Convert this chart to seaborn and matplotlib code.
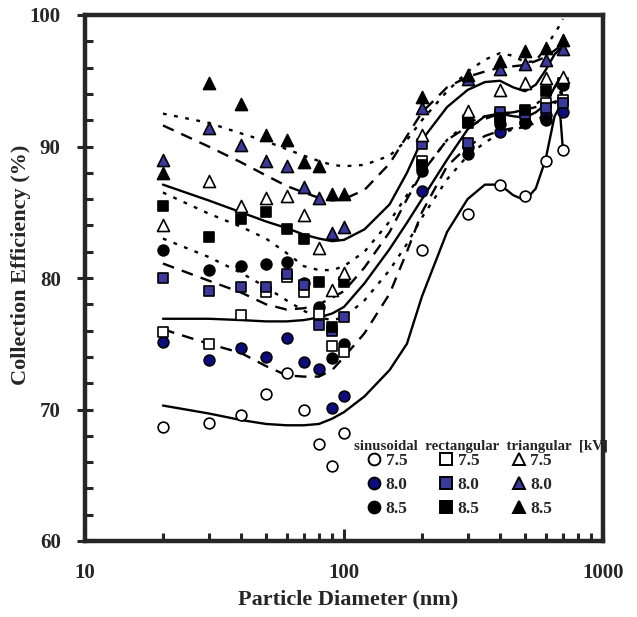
import matplotlib
matplotlib.use('Agg')
from matplotlib import pyplot as plt
from matplotlib.ticker import FixedLocator, FixedFormatter, NullFormatter
import seaborn as sns
import pandas as pd

# measured points (particle diameter, nm)
diam = [20, 30, 40, 50, 60, 70, 80, 90, 100, 200, 300, 400, 500, 600, 700]

sin_75 = [68.7, 69.0, 69.6, 71.2, 72.8, 70.0, 67.4, 65.7, 68.2, 82.1, 84.9, 87.1, 86.2, 88.9, 89.7]
sin_80 = [75.1, 73.8, 74.7, 74.0, 75.4, 73.6, 73.1, 70.1, 71.0, 86.6, 90.0, 91.1, 91.8, 92.4, 92.6]
sin_85 = [82.1, 80.6, 80.9, 81.1, 81.2, 79.6, 77.8, 73.9, 75.0, 88.1, 89.4, 91.7, 91.9, 92.0, 94.7]
rect_75 = [75.9, 75.0, 77.2, 78.9, 80.1, 78.9, 77.3, 74.8, 74.4, 88.9, 92.0, 92.3, 92.6, 93.3, 93.5]
rect_80 = [80.0, 79.0, 79.3, 79.3, 80.3, 79.5, 76.4, 76.0, 77.0, 90.2, 90.3, 92.6, 92.5, 92.9, 93.3]
rect_85 = [85.5, 83.1, 84.5, 85.0, 83.7, 83.0, 79.7, 76.3, 79.7, 88.6, 91.8, 92.2, 92.8, 94.2, 94.8]
tri_75 = [84.0, 87.4, 85.5, 86.1, 86.2, 84.8, 82.3, 79.1, 80.4, 90.9, 92.7, 94.3, 94.8, 95.2, 95.3]
tri_80 = [89.0, 91.4, 90.1, 88.9, 88.5, 86.9, 86.1, 83.4, 83.9, 92.9, 95.1, 95.9, 96.3, 96.6, 97.4]
tri_85 = [88.0, 94.8, 93.2, 90.9, 90.5, 88.8, 88.5, 86.4, 86.4, 93.8, 95.4, 96.5, 97.3, 97.5, 98.1]

# fitted curves
fit_d = [20, 30, 40, 50, 60, 70, 80, 90, 100, 120, 150, 175, 200, 250, 300, 350,
         400, 450, 500, 550, 600, 650, 680, 700]
fit_sin_75 = [70.3, 69.7, 69.2, 68.9, 68.8, 68.8, 68.9, 69.3, 69.8, 71.0, 73.0, 75.0,
              78.6, 83.5, 86.0, 87.1, 87.1, 86.3, 85.9, 86.8, 89.0, 92.3, 93.0, 89.8]
fit_sin_80 = [76.1, 75.0, 74.3, 73.3, 72.6, 72.5, 72.5, 73.0, 74.0, 75.8, 78.8, 82.0,
              85.0, 88.5, 90.0, 90.8, 91.2, 91.4, 91.6, 92.0, 92.4, 92.8, 92.8, 92.6]
fit_sin_85 = [83.0, 81.6, 80.4, 79.3, 78.3, 77.5, 77.0, 76.8, 77.0, 78.3, 80.6, 82.6,
              84.6, 87.5, 89.3, 90.3, 91.0, 91.3, 91.5, 91.8, 92.2, 93.2, 94.0, 94.5]
fit_rect_75 = [76.9, 76.9, 76.8, 76.7, 76.7, 76.8, 77.0, 77.3, 77.8, 79.6, 82.2, 84.2,
               86.0, 89.0, 91.3, 92.3, 92.5, 92.3, 92.2, 92.6, 93.2, 94.5, 95.2, 93.5]
fit_rect_80 = [81.1, 79.8, 78.9, 78.0, 77.6, 77.7, 78.0, 78.5, 79.0, 80.8, 83.5, 86.0,
               88.0, 90.5, 91.5, 92.1, 92.5, 92.6, 92.8, 93.0, 93.2, 93.4, 93.5, 93.4]
fit_rect_85 = [86.5, 84.9, 83.9, 83.0, 81.9, 80.9, 80.6, 80.6, 80.9, 82.0, 84.3, 86.3,
               88.0, 90.5, 91.8, 92.3, 92.5, 92.6, 92.8, 93.2, 93.8, 94.5, 94.9, 95.0]
fit_tri_75 = [87.1, 85.9, 85.0, 84.3, 83.8, 83.3, 83.0, 82.8, 82.9, 83.7, 85.6, 88.0,
              90.5, 93.0, 94.3, 94.9, 95.0, 94.5, 94.2, 94.7, 95.8, 97.0, 97.4, 97.6]
fit_tri_80 = [91.6, 90.0, 88.8, 87.8, 87.0, 86.5, 86.1, 85.9, 86.0, 86.7, 88.7, 90.8,
              92.6, 94.5, 95.3, 95.7, 96.0, 96.1, 96.2, 96.5, 96.8, 97.3, 97.6, 97.8]
fit_tri_85 = [92.5, 91.8, 91.0, 90.4, 89.8, 89.3, 88.9, 88.6, 88.5, 88.6, 89.3, 90.5,
              92.0, 94.2, 95.7, 96.6, 97.1, 96.9, 96.4, 96.5, 97.5, 98.6, 99.2, 99.7]


def PlotAll(outfile):
    sns.set_style('ticks')
    plt.rcParams['font.family'] = ['Liberation Serif', 'DejaVu Serif']
    plt.rcParams['font.weight'] = 'bold'
    fig = plt.figure(figsize=(6.37, 6.17), dpi=100)
    axe = fig.add_axes([85 / 637, 1 - 541 / 617, 518 / 637, 526 / 617])

    navy = '#0c0c7e'
    slate = '#3a3a9c'
    series = [
        (sin_75, 'o', 'white'), (sin_80, 'o', navy), (sin_85, 'o', 'black'),
        (rect_75, 's', 'white'), (rect_80, 's', slate), (rect_85, 's', 'black'),
        (tri_75, '^', 'white'), (tri_80, '^', slate), (tri_85, '^', 'black'),
    ]
    fits = [
        (fit_sin_75, '-'), (fit_sin_80, (0, (5, 3.5))), (fit_sin_85, (0, (1.6, 3.2))),
        (fit_rect_75, '-'), (fit_rect_80, (0, (5, 3.5))), (fit_rect_85, (0, (1.6, 3.2))),
        (fit_tri_75, '-'), (fit_tri_80, (0, (5, 3.5))), (fit_tri_85, (0, (1.6, 3.2))),
    ]
    for vals, ls in fits:
        pd_fit = pd.DataFrame({'d': fit_d, 'eff': vals})
        sns.lineplot(data=pd_fit, x='d', y='eff', ax=axe, color='black',
                     linewidth=1.7, linestyle=ls, zorder=2, legend=False)

    handles = []
    for vals, mk, fc in series:
        pd_pt = pd.DataFrame({'d': diam, 'eff': vals})
        size = 75 if mk == '^' else 60
        sns.scatterplot(data=pd_pt, x='d', y='eff', ax=axe, marker=mk, s=size,
                        color=fc, edgecolor='black', linewidth=1.2, zorder=3,
                        legend=False)
        h, = axe.plot([], [], linestyle='none', marker=mk, markersize=8.5,
                      markerfacecolor=fc, markeredgecolor='black',
                      markeredgewidth=1.4)
        handles.append(h)

    axe.set_xscale('log')
    axe.set_xlim(10, 1000)
    axe.set_ylim(60, 100)
    axe.xaxis.set_major_locator(FixedLocator([10, 100, 1000]))
    axe.xaxis.set_major_formatter(FixedFormatter(['10', '100', '1000']))
    axe.xaxis.set_minor_locator(FixedLocator([20, 30, 40, 50, 60, 70, 80, 90,
                                              200, 300, 400, 500, 600, 700, 800, 900]))
    axe.xaxis.set_minor_formatter(NullFormatter())
    axe.set_yticks([60, 70, 80, 90, 100])
    axe.set_yticks(range(62, 100, 2), minor=True)

    plt.setp(axe.spines.values(), linewidth=3.2)
    axe.tick_params(axis='x', which='major', direction='in', length=9, width=2.2,
                    pad=16, labelsize=15)
    axe.tick_params(axis='x', which='minor', direction='in', length=6, width=2.2)
    axe.tick_params(axis='y', which='major', direction='inout', length=11, width=2.2,
                    pad=12, labelsize=15)
    axe.tick_params(axis='y', which='minor', direction='in', length=6, width=2.2)
    for lab in axe.get_xticklabels() + axe.get_yticklabels():
        lab.set_fontweight('bold')

    axe.set_xlabel('Particle Diameter (nm)', fontsize=16, fontweight='bold')
    axe.set_ylabel('Collection Efficiency (%)', fontsize=16, fontweight='bold')
    axe.xaxis.set_label_coords(0.507, -0.112)
    axe.yaxis.set_label_coords(-0.124, 0.525)
    axe.xaxis.label.set_va('center')
    axe.yaxis.label.set_va('center')

    axe.text(0.519, 0.179, 'sinusoidal  rectangular  triangular  [kV]',
             transform=axe.transAxes, fontsize=10.7, fontweight='bold', va='center')
    labels = ['7.5', '8.0', '8.5'] * 3
    axe.legend(handles, labels, ncol=3, loc='center left', bbox_to_anchor=(0.545, 0.107),
               frameon=False, borderpad=0, handlelength=0.8, handletextpad=0.25,
               columnspacing=1.85, labelspacing=0.45, borderaxespad=0,
               prop={'size': 12.5, 'weight': 'bold'})

    plt.savefig(outfile, dpi=100)


def main():
    PlotAll('out.png')


if __name__ == '__main__':
    main()
